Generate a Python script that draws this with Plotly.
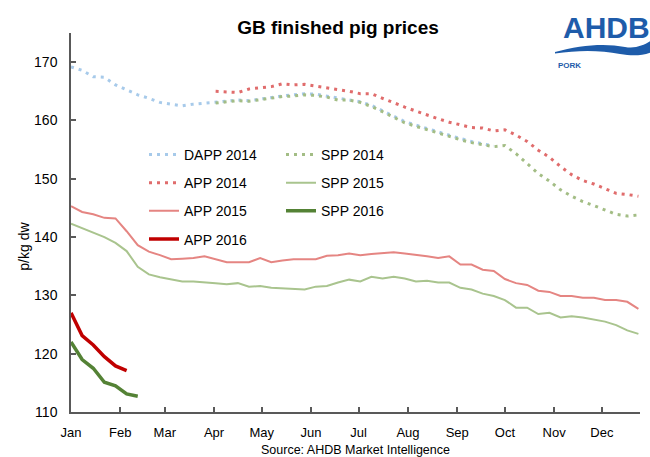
import plotly.graph_objects as go
import pandas as pd

# ---------------- data ----------------
months = ["Jan", "Feb", "Mar", "Apr", "May", "Jun", "Jul", "Aug", "Sep", "Oct", "Nov", "Dec"]
month_starts = ["2015-01-01", "2015-02-01", "2015-03-01", "2015-04-01", "2015-05-01", "2015-06-01",
                "2015-07-01", "2015-08-01", "2015-09-01", "2015-10-01", "2015-11-01", "2015-12-01"]
week_index = list(range(52))  # weekly observations, plotted on a common calendar year

dapp_2014 = [169.2, 168.6, 167.5, 167.4, 166.1, 165.2, 164.4, 163.8, 163.1, 162.8,
             162.5, 162.8, 163.0, 163.1, 163.3, 163.5, 163.4, 163.7, 164.0, 164.2,
             164.4, 164.6, 164.5, 164.2, 163.8, 163.6, 163.2, 162.6, 161.7, 160.7,
             159.8, 159.2, 158.6, 158.0, 157.4, 156.9, 156.4, 156.0, 155.6]
dapp_2014_start = 0

app_2014 = [165.0, 164.9, 164.8, 165.4, 165.6, 165.8, 166.3, 166.1, 166.2, 165.9,
            165.7, 165.3, 165.0, 164.6, 164.6, 163.8, 163.0, 162.3, 161.6, 160.9,
            160.3, 159.7, 159.2, 158.8, 158.7, 158.2, 158.4, 157.5, 156.4, 154.9,
            153.7, 152.1, 150.7, 149.7, 149.1, 148.3, 147.5, 147.3, 147.0]
app_2014_start = 13

spp_2014 = [163.0, 163.2, 163.4, 163.3, 163.6, 163.9, 164.1, 164.2, 164.4, 164.3,
            164.0, 163.5, 163.5, 163.1, 162.4, 161.5, 160.6, 159.6, 159.0, 158.4,
            157.8, 157.2, 156.7, 156.2, 155.9, 155.5, 155.7, 154.3, 152.6, 150.9,
            149.6, 148.1, 147.0, 146.1, 145.4, 144.6, 143.9, 143.6, 143.8]
spp_2014_start = 13

app_2015 = [145.3, 144.3, 143.9, 143.3, 143.2, 141.0, 138.6, 137.5, 136.9, 136.2,
            136.3, 136.4, 136.7, 136.2, 135.7, 135.7, 135.7, 136.4, 135.7, 136.0,
            136.2, 136.2, 136.2, 136.8, 136.9, 137.2, 136.9, 137.1, 137.2, 137.4,
            137.2, 137.0, 136.7, 136.4, 136.7, 135.3, 135.3, 134.4, 134.2, 132.8,
            132.1, 131.8, 130.8, 130.6, 129.9, 129.9, 129.6, 129.6, 129.2, 129.2,
            128.9, 127.7]

spp_2015 = [142.3, 141.5, 140.8, 140.0, 139.0, 137.6, 134.9, 133.6, 133.1, 132.7,
            132.4, 132.4, 132.3, 132.1, 131.9, 132.1, 131.5, 131.6, 131.3, 131.2,
            131.0, 131.0, 131.5, 131.6, 132.2, 132.7, 132.4, 133.2, 132.9, 133.2,
            132.9, 132.4, 132.5, 132.2, 132.2, 131.3, 131.0, 130.3, 129.9, 129.2,
            127.9, 127.9, 126.8, 127.0, 126.2, 126.4, 126.2, 125.9, 125.5, 124.9,
            124.0, 123.4]

app_2016 = [127.0, 123.1, 121.5, 119.5, 117.9, 117.1]
spp_2016 = [122.0, 119.0, 117.5, 115.1, 114.5, 113.1, 112.7]

y_ticks = [110, 120, 130, 140, 150, 160, 170]

# ---------------- layout geometry ----------------
W, H = 650, 457
L, R, T, B = 71, 640, 33, 412.5
FONT = "Arial, Liberation Sans, sans-serif"


def px_x(px):
    return (px - L) / (R - L)


def px_y(py):
    return (B - py) / (B - T)


week_dates = pd.Timestamp("2015-01-01") + pd.to_timedelta([7 * w for w in week_index], unit="D")


def xs(start, n):
    return week_dates[start:start + n]


DOT = "3px,5px"

fig = go.Figure()

# column 1 legend
fig.add_trace(go.Scatter(x=xs(dapp_2014_start, len(dapp_2014)), y=dapp_2014, mode="lines",
                         name="DAPP 2014", line=dict(color="#A7CAEA", width=3, dash=DOT),
                         legend="legend", legendgroup="g1"))
fig.add_trace(go.Scatter(x=xs(app_2014_start, len(app_2014)), y=app_2014, mode="lines",
                         name="APP 2014", line=dict(color="#E06C6C", width=3, dash=DOT),
                         legend="legend", legendgroup="g2"))
fig.add_trace(go.Scatter(x=xs(0, len(app_2015)), y=app_2015, mode="lines",
                         name="APP 2015", line=dict(color="#E58582", width=2),
                         legend="legend", legendgroup="g3"))
fig.add_trace(go.Scatter(x=xs(0, len(app_2016)), y=app_2016, mode="lines",
                         name="APP 2016", line=dict(color="#C00000", width=3.5),
                         legend="legend", legendgroup="g4"))
# column 2 legend
fig.add_trace(go.Scatter(x=xs(spp_2014_start, len(spp_2014)), y=spp_2014, mode="lines",
                         name="SPP 2014", line=dict(color="#A3BD85", width=3, dash=DOT),
                         legend="legend2", legendgroup="g5"))
fig.add_trace(go.Scatter(x=xs(0, len(spp_2015)), y=spp_2015, mode="lines",
                         name="SPP 2015", line=dict(color="#A9C48E", width=2),
                         legend="legend2", legendgroup="g6"))
fig.add_trace(go.Scatter(x=xs(0, len(spp_2016)), y=spp_2016, mode="lines",
                         name="SPP 2016", line=dict(color="#548235", width=3.5),
                         legend="legend2", legendgroup="g7"))

legend_common = dict(font=dict(family=FONT, size=14, color="#000000"), bgcolor="rgba(0,0,0,0)",
                     borderwidth=0, xanchor="left", yanchor="top", tracegroupgap=7,
                     traceorder="grouped")

axis_col = "#595959"

fig.update_layout(
    width=W, height=H,
    margin=dict(l=L, r=W - R, t=T, b=H - B, pad=0),
    paper_bgcolor="white", plot_bgcolor="white",
    font=dict(family=FONT, color="#000000"),
    showlegend=True,
    legend=dict(x=px_x(144), y=px_y(139), **legend_common),
    legend2=dict(x=px_x(281), y=px_y(139), **legend_common),
    title=dict(text="<b>GB finished pig prices</b>", x=338 / W, xref="container", xanchor="center",
               y=1 - 27 / H, yref="container", yanchor="middle",
               font=dict(family=FONT, size=19, color="#000000")),
    xaxis=dict(type="date", range=["2015-01-01", "2015-12-25"], tickvals=month_starts, ticktext=months,
               showgrid=False, zeroline=False, showline=True, linecolor=axis_col, linewidth=1.5,
               ticks="inside", ticklen=5, tickcolor=axis_col, tickwidth=1.5,
               tickfont=dict(family=FONT, size=13, color="#000000"), ticklabelstandoff=8),
    yaxis=dict(range=[110, 175], tickvals=y_ticks, showgrid=False, zeroline=False, showline=True,
               linecolor=axis_col, linewidth=1.5, ticks="inside", ticklen=5, tickcolor=axis_col,
               tickwidth=1.5, tickfont=dict(family=FONT, size=14, color="#000000"),
               ticklabelstandoff=9),
)

# y-axis title
fig.add_annotation(text="p/kg dw", textangle=-90, xref="paper", yref="paper",
                   x=px_x(24), y=px_y(247), showarrow=False, xanchor="center", yanchor="middle",
                   font=dict(family=FONT, size=14, color="#000000"))
# source
fig.add_annotation(text="Source: AHDB Market Intelligence", xref="paper", yref="paper",
                   x=px_x(355), y=px_y(451), showarrow=False, xanchor="center", yanchor="middle",
                   font=dict(family=FONT, size=12.5, color="#000000"))

# AHDB logo
logo_blue = "#1E5CAA"
fig.add_annotation(text="<b>AHDB</b>", xref="paper", yref="paper", x=px_x(561), y=px_y(27),
                   showarrow=False, xanchor="left", yanchor="middle",
                   font=dict(family=FONT, size=30, color=logo_blue))
fig.add_annotation(text="<b>PORK</b>", xref="paper", yref="paper", x=px_x(556), y=px_y(66),
                   showarrow=False, xanchor="left", yanchor="middle",
                   font=dict(family=FONT, size=8, color=logo_blue))


def pt(px, py):
    return f"{px_x(px):.5f},{px_y(py):.5f}"


swoosh = ("M " + pt(555, 52) + " C " + pt(580, 45) + " " + pt(605, 43) + " " + pt(625, 47)
          + " C " + pt(636, 49) + " " + pt(645, 45) + " " + pt(652, 40)
          + " L " + pt(652, 52) + " C " + pt(642, 56) + " " + pt(632, 56) + " " + pt(620, 54)
          + " C " + pt(600, 50) + " " + pt(578, 50) + " " + pt(555, 53.5) + " Z")
fig.add_shape(type="path", path=swoosh, xref="paper", yref="paper",
              fillcolor=logo_blue, line=dict(width=0), layer="above")

fig.write_html("out.html", config={"displayModeBar": False},
               post_script="document.body.style.margin='0';document.body.style.overflow='hidden';")
